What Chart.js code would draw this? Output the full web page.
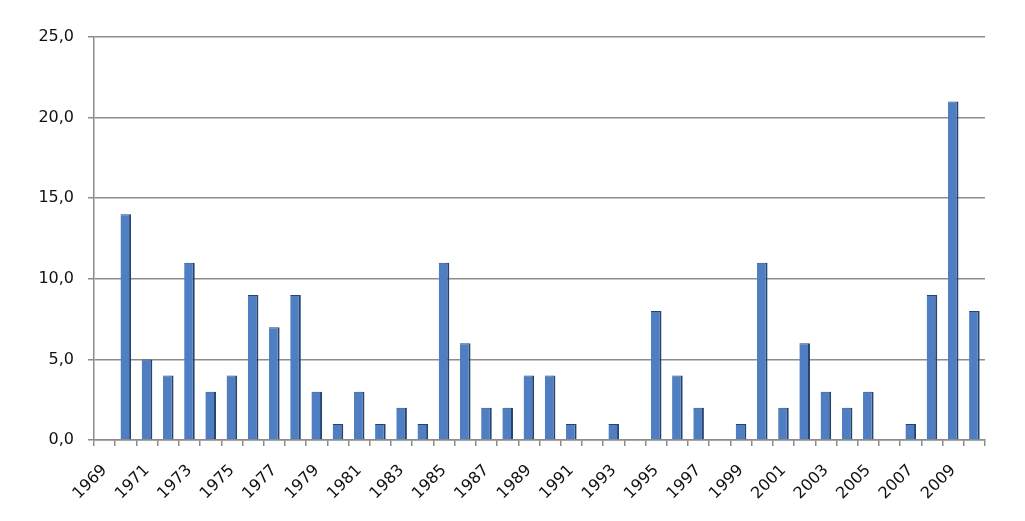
<!DOCTYPE html>
<html>
<head>
<meta charset="utf-8">
<script src="https://cdn.jsdelivr.net/npm/chart.js@4.4.1/dist/chart.umd.min.js"></script>
<style>
    html, body { margin: 0; padding: 0; background: #fff; }
    #wrap { width: 1025px; height: 521px; }
</style>
</head>
<body>
<div id="wrap"><canvas id="barChart" width="1025" height="521"></canvas></div>
<script>
const years = [
    '1969', '1970', '1971', '1972', '1973', '1974', '1975', '1976', '1977', '1978',
    '1979', '1980', '1981', '1982', '1983', '1984', '1985', '1986', '1987', '1988',
    '1989', '1990', '1991', '1992', '1993', '1994', '1995', '1996', '1997', '1998',
    '1999', '2000', '2001', '2002', '2003', '2004', '2005', '2006', '2007', '2008',
    '2009', '2010',
];
const counts = [
    0, 14, 5, 4, 11, 3, 4, 9, 7, 9,
    3, 1, 3, 1, 2, 1, 11, 6, 2, 2,
    4, 4, 1, 0, 1, 0, 8, 4, 2, 0,
    1, 11, 2, 6, 3, 2, 3, 0, 1, 9,
    21, 8,
];
const yTicks = [0, 5, 10, 15, 20, 25];

const ctx = document.getElementById('barChart').getContext('2d');

new Chart(ctx, {
    type: 'bar',
    data: {
        labels: years,
        datasets: [{
            data: counts,
            backgroundColor: '#4f7fc2',
            borderColor: '#26446f',
            borderWidth: { top: 1, right: 2, left: 0, bottom: 0 },
            borderSkipped: false,
            barPercentage: 0.5,
            categoryPercentage: 1,
        }],
    },
    options: {
        responsive: false,
        animation: false,
        layout: { padding: { top: 37, right: 40, left: 0, bottom: 0 } },
        plugins: { legend: { display: false }, tooltip: { enabled: false } },
        scales: {
            x: {
                afterFit: (scale) => { scale.height = 81; },
                grid: {
                    offset: true,
                    drawOnChartArea: false,
                    color: '#8c8c8c',
                    lineWidth: 1.5,
                    tickLength: 6,
                },
                border: { color: '#8c8c8c', width: 1.5 },
                ticks: {
                    autoSkip: false,
                    maxRotation: 45,
                    minRotation: 45,
                    color: '#111',
                    padding: 15,
                    font: { family: 'DejaVu Sans', size: 16 },
                    callback: (value, index) => (index % 2 === 0 ? years[index] : ''),
                },
            },
            y: {
                min: 0,
                max: 25,
                afterFit: (scale) => { scale.width = 94; },
                afterBuildTicks: (scale) => { scale.ticks = yTicks.map((v) => ({ value: v })); },
                grid: {
                    color: '#8c8c8c',
                    lineWidth: 1.5,
                    tickLength: 6,
                },
                border: { color: '#8c8c8c', width: 1.5 },
                ticks: {
                    color: '#111',
                    padding: 14,
                    font: { family: 'DejaVu Sans', size: 16 },
                    callback: (value) => value.toFixed(1).replace('.', ','),
                },
            },
        },
    },
});
</script>
</body>
</html>
